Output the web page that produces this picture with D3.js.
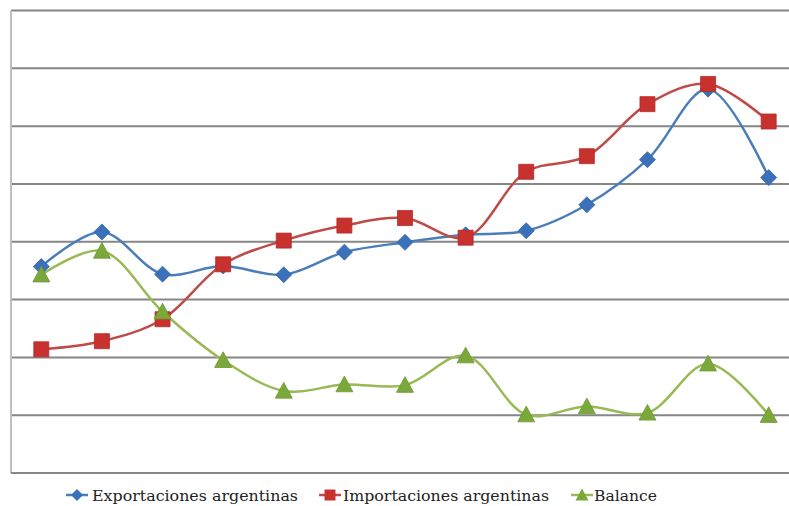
<!DOCTYPE html>
<html>
<head>
<meta charset="utf-8">
<script src="https://cdn.jsdelivr.net/npm/d3@7"></script>
<style>
  body { margin: 0; background: #fff; }
  svg { display: block; }
  .grid line { stroke: #868686; stroke-width: 2; }
</style>
</head>
<body>
<svg width="789" height="506"></svg>
<script>
// values, in gridline units (no axis labels shown)
const years = ["1", "2", "3", "4", "5", "6", "7", "8", "9", "10", "11", "12", "13"];
const exportaciones = [3.57, 4.17, 3.44, 3.58, 3.43, 3.82, 3.99, 4.12, 4.19, 4.64, 5.42, 6.64, 5.11];
const importaciones = [2.14, 2.28, 2.66, 3.61, 4.02, 4.28, 4.41, 4.07, 5.21, 5.48, 6.38, 6.73, 6.08];
const balance = [3.43, 3.84, 2.79, 1.95, 1.42, 1.53, 1.52, 2.03, 1.01, 1.15, 1.04, 1.89, 1.00];
const gridTicks = [1, 2, 3, 4, 5, 6, 7, 8];

// diamond as a rotated square, half-diagonal r
const diamond = r => `M0,${-r}L${r},0L0,${r}L${-r},0Z`;
const square = r => `M${-r},${-r}H${r}V${r}H${-r}Z`;
const triangle = r => `M0,${-r}L${r},${r * 0.85}H${-r}Z`;

const series = [
    {name: "Exportaciones argentinas", values: exportaciones, line: "#4A7EBB", fill: "#3B70BA", shape: diamond, size: 8, legSize: 6},
    {name: "Importaciones argentinas", values: importaciones, line: "#BE4B48", fill: "#C7312E", shape: square, size: 7.5, legSize: 5.5},
    {name: "Balance", values: balance, line: "#98B954", fill: "#7BA83A", shape: triangle, size: 8.5, legSize: 6.5}
];

const svg = d3.select("svg");
const plot = {left: 11, right: 799, top: 10.5, bottom: 473};

const x = d3.scalePoint()
    .domain(years)
    .range([plot.left, plot.right])
    .padding(0.5);

const y = d3.scaleLinear()
    .domain([0, 8])
    .range([plot.bottom, plot.top]);

// gridlines
svg.append("g")
    .attr("class", "grid")
    .selectAll("line")
    .data(gridTicks)
    .enter()
    .append("line")
    .attr("x1", plot.left)
    .attr("x2", plot.right)
    .attr("y1", d => y(d))
    .attr("y2", d => y(d));

// axes
svg.append("line")
    .attr("x1", plot.left).attr("x2", plot.left)
    .attr("y1", plot.top).attr("y2", plot.bottom)
    .attr("stroke", "#BFBFBF").attr("stroke-width", 2);
svg.append("line")
    .attr("x1", plot.left).attr("x2", plot.right)
    .attr("y1", y(0)).attr("y2", y(0))
    .attr("stroke", "#868686").attr("stroke-width", 2);

const line = d3.line()
    .x((d, i) => x(years[i]))
    .y(d => y(d))
    .curve(d3.curveCatmullRom.alpha(0.5));

series.forEach(s => {
    svg.append("path")
        .datum(s.values)
        .attr("fill", "none")
        .attr("stroke", s.line)
        .attr("stroke-width", 2.5)
        .attr("d", line);
});

series.forEach(s => {
    svg.append("g")
        .selectAll("path")
        .data(s.values)
        .enter()
        .append("path")
        .attr("d", s.shape(s.size))
        .attr("transform", (d, i) => `translate(${x(years[i])},${y(d)})`)
        .attr("fill", s.fill)
        .attr("stroke", d3.color(s.fill).darker(0.3))
        .attr("stroke-width", 0.8);
});

// legend
const legendItems = [
    {marker: 77, textX: 92, textLen: 206},
    {marker: 330, textX: 343, textLen: 206},
    {marker: 582, textX: 594, textLen: 63}
];
const legend = svg.append("g");
series.forEach((s, i) => {
    const it = legendItems[i];
    legend.append("line")
        .attr("x1", it.marker - 11).attr("x2", it.marker + 11)
        .attr("y1", 495).attr("y2", 495)
        .attr("stroke", s.line).attr("stroke-width", 2.5);
    legend.append("path")
        .attr("d", s.shape(s.legSize))
        .attr("transform", `translate(${it.marker},495)`)
        .attr("fill", s.fill);
    legend.append("text")
        .attr("x", it.textX)
        .attr("y", 501)
        .attr("font-family", "DejaVu Serif")
        .attr("font-size", 15)
        .attr("fill", "#222")
        .attr("textLength", it.textLen)
        .attr("lengthAdjust", "spacingAndGlyphs")
        .text(s.name);
});
</script>
</body>
</html>
